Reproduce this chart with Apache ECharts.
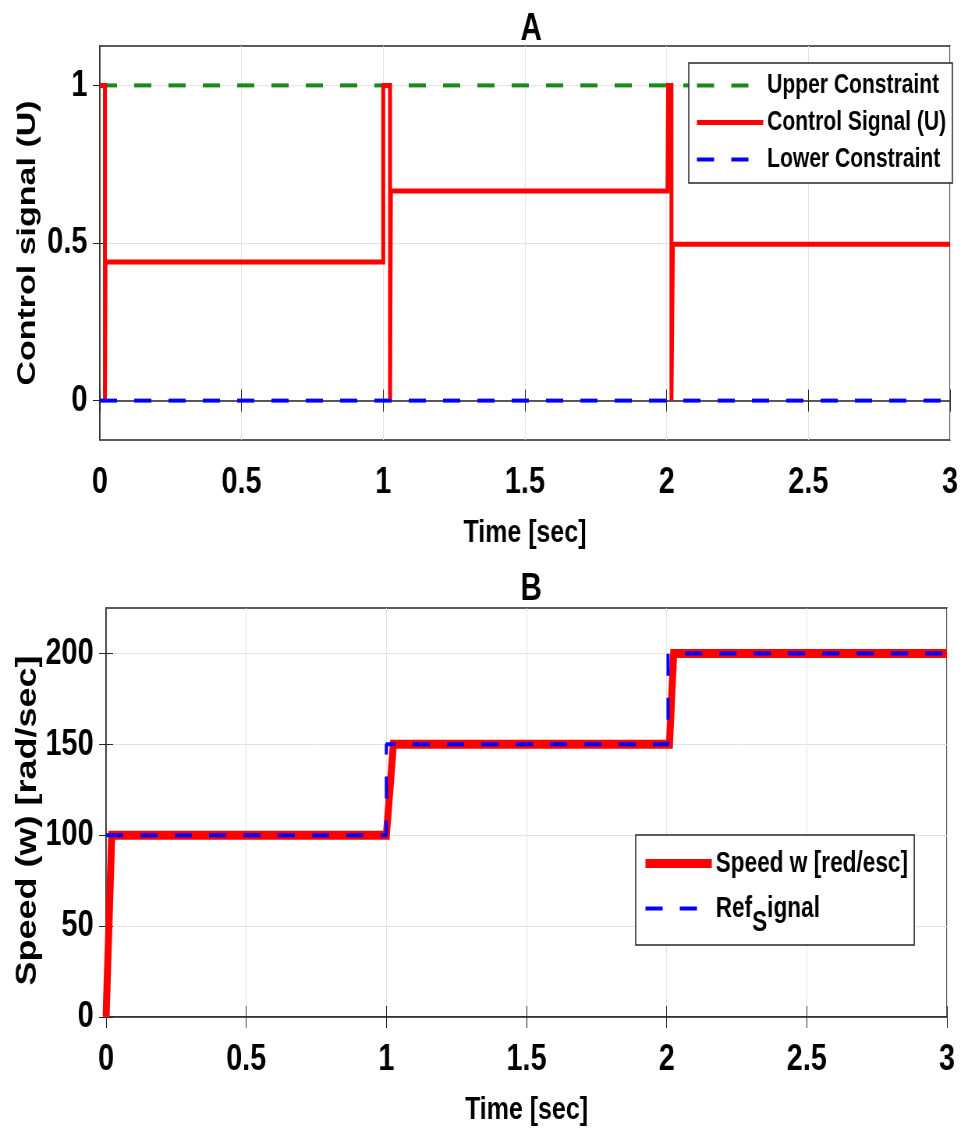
<!DOCTYPE html>
<html>
<head>
<meta charset="utf-8">
<title>Control signal / Speed</title>
<script src="https://cdn.jsdelivr.net/npm/echarts@6/dist/echarts.min.js"></script>
<style>
html, body { margin: 0; padding: 0; background: #fff; overflow: hidden; }
/* 原图横向被压缩，这里整体按 0.78 压回去 */
#main { width: 1240px; height: 1131px; transform: scaleX(0.78); transform-origin: 0 0; }
</style>
</head>
<body>
<div id="main"></div>
<script>
// 刻度
const timeTicks = [0, 0.5, 1, 1.5, 2, 2.5, 3];
const uTicks = [0, 0.5, 1];
const speedTicks = [0, 50, 100, 150, 200];

// A: 约束和控制信号 [t, U]
const upperConstraint = [[0, 1], [3, 1]];
const lowerConstraint = [[0, 0], [3, 0]];
const controlSignal = [
	[0, 1], [0.018, 1], [0.018, 0], [0.02, 0.44],
	[1.0, 0.44], [1.0, 1], [1.024, 1], [1.024, 0], [1.027, 0.665],
	[2.003, 0.665], [2.005, 1], [2.017, 1], [2.017, 0], [2.022, 0.496],
	[3, 0.496]
];

// B: 速度和参考信号 [t, w]
const speedW = [[0, 0], [0.02, 100], [1.0, 100], [1.025, 150], [2.01, 150], [2.025, 200], [3, 200]];
const refSignal = [[0, 100], [1.0, 100], [1.0, 150], [2.005, 150], [2.005, 200], [3, 200]];

const FONT = "'Liberation Sans', Arial, sans-serif";
const AX = '#262626';
const DASH = [22, 22];

function xAxisFor(gridIndex) {
	return [
		{
			type: 'value', gridIndex: gridIndex, min: 0, max: 3,
			name: 'Time [sec]', nameLocation: 'middle', nameGap: 77, nameMoveOverlap: false,
			nameTextStyle: { fontFamily: FONT, fontWeight: 'bold', fontSize: 32, color: '#000' },
			axisLine: { lineStyle: { color: AX, width: 1.5 } },
			axisTick: { inside: true, length: 11, lineStyle: { color: AX }, customValues: timeTicks },
			axisLabel: { margin: 24, fontFamily: FONT, fontWeight: 'bold', fontSize: 37, color: '#000', customValues: timeTicks },
			splitLine: { show: true, lineStyle: { color: '#e3e3e3', width: 1 } }
		},
		{
			type: 'value', gridIndex: gridIndex, position: 'top', min: 0, max: 3,
			axisLine: { show: false },
			axisTick: { inside: true, length: 11, lineStyle: { color: AX }, customValues: timeTicks },
			axisLabel: { show: false },
			splitLine: { show: false }
		}
	];
}

function yAxisFor(gridIndex, min, max, ticks, name, gap, nameSize, namePad) {
	return [
		{
			type: 'value', gridIndex: gridIndex, min: min, max: max,
			name: name, nameLocation: 'middle', nameGap: gap, nameMoveOverlap: false,
			nameTextStyle: { fontFamily: FONT, fontWeight: 'bold', fontSize: nameSize, color: '#000', padding: namePad },
			axisLine: { show: true, lineStyle: { color: AX, width: 1.5 } },
			axisTick: { show: true, inside: true, length: 9, lineStyle: { color: AX }, customValues: ticks },
			axisLabel: { margin: 16, fontFamily: FONT, fontWeight: 'bold', fontSize: 37, color: '#000', customValues: ticks },
			splitLine: { show: true, lineStyle: { color: '#e3e3e3', width: 1 } }
		},
		{
			type: 'value', gridIndex: gridIndex, position: 'right', min: min, max: max,
			axisLine: { show: false },
			axisTick: { show: true, inside: true, length: 9, lineStyle: { color: AX }, customValues: ticks },
			axisLabel: { show: false },
			splitLine: { show: false }
		}
	];
}

const chart = echarts.init(document.getElementById('main'), null, { renderer: 'canvas' });

const option = {
	animation: false,
	backgroundColor: '#fff',
	title: [
		{ text: 'A', left: 676, top: 6, textAlign: 'center', textStyle: { fontFamily: FONT, fontWeight: 'bold', fontSize: 38, color: '#000' } },
		{ text: 'B', left: 676, top: 566, textAlign: 'center', textStyle: { fontFamily: FONT, fontWeight: 'bold', fontSize: 38, color: '#000' } }
	],
	grid: [
		{ left: 128, right: 22, top: 46, bottom: 691, outerBoundsMode: 'none', containLabel: false, show: true, borderColor: AX, borderWidth: 1.5, backgroundColor: '#fff' },
		{ left: 136, right: 26, top: 608, bottom: 114, outerBoundsMode: 'none', containLabel: false, show: true, borderColor: AX, borderWidth: 1.5, backgroundColor: '#fff' }
	],
	xAxis: [].concat(xAxisFor(0), xAxisFor(1)),
	yAxis: [].concat(
		yAxisFor(0, -0.125, 1.125, uTicks, 'Control signal (U)', 75, 34, 0),
		yAxisFor(1, 0, 225, speedTicks, 'Speed (w) [rad/sec]', 82, 36, [0, 16, 0, 0])
	),
	legend: [
		{
			data: [
				{ name: 'Upper Constraint', lineStyle: { width: 4, type: DASH } },
				{ name: 'Control Signal (U)', lineStyle: { width: 5, type: 'solid' } },
				{ name: 'Lower Constraint', lineStyle: { width: 4, type: DASH } }
			],
			orient: 'vertical', left: 883, top: 63,
			padding: [9, 8, 10, 8], itemGap: 10, itemWidth: 85, itemHeight: 20,
			itemStyle: { opacity: 0 },
			backgroundColor: '#fff', borderColor: AX, borderWidth: 1.5,
			textStyle: { fontFamily: FONT, fontWeight: 'bold', fontSize: 27, color: '#000' }
		},
		{
			data: [
				{ name: 'Speed w [red/esc]', lineStyle: { width: 9, type: 'solid' } },
				{ name: 'Ref_Signal', lineStyle: { width: 4, type: DASH } }
			],
			orient: 'vertical', left: 815, top: 835,
			padding: [14, 8, 8, 8], itemGap: 16, itemWidth: 85, itemHeight: 20,
			itemStyle: { opacity: 0 },
			backgroundColor: '#fff', borderColor: AX, borderWidth: 1.5,
			textStyle: {
				fontFamily: FONT, fontWeight: 'bold', fontSize: 29, color: '#000',
				rich: {
					a: { fontFamily: FONT, fontWeight: 'bold', fontSize: 29, color: '#000' },
					sub: { fontFamily: FONT, fontWeight: 'bold', fontSize: 29, color: '#000', padding: [28, 0, 0, 0] }
				}
			},
			formatter: function (name) {
				// Ref_Signal 显示下标 S
				if (name === 'Ref_Signal') return '{a|Ref}{sub|S}{a|ignal}';
				return name;
			}
		}
	],
	series: [
		{
			name: 'Upper Constraint', type: 'line', xAxisIndex: 0, yAxisIndex: 0,
			data: upperConstraint, symbol: 'none',
			lineStyle: { color: '#178a17', width: 4, type: DASH, cap: 'butt' }, itemStyle: { color: '#178a17' }
		},
		{
			name: 'Control Signal (U)', type: 'line', xAxisIndex: 0, yAxisIndex: 0,
			data: controlSignal, symbol: 'none',
			lineStyle: { color: '#ff0000', width: 5, join: 'miter' }, itemStyle: { color: '#ff0000' }
		},
		{
			name: 'Lower Constraint', type: 'line', xAxisIndex: 0, yAxisIndex: 0,
			data: lowerConstraint, symbol: 'none',
			lineStyle: { color: '#0000ff', width: 4, type: DASH, cap: 'butt' }, itemStyle: { color: '#0000ff' }
		},
		{
			name: 'Speed w [red/esc]', type: 'line', xAxisIndex: 2, yAxisIndex: 2,
			data: speedW, symbol: 'none',
			lineStyle: { color: '#ff0000', width: 9, join: 'miter' }, itemStyle: { color: '#ff0000' }
		},
		{
			name: 'Ref_Signal', type: 'line', xAxisIndex: 2, yAxisIndex: 2,
			data: refSignal, symbol: 'none',
			lineStyle: { color: '#0000ff', width: 4, type: DASH, cap: 'butt' }, itemStyle: { color: '#0000ff' }
		}
	]
};

chart.setOption(option);
</script>
</body>
</html>
